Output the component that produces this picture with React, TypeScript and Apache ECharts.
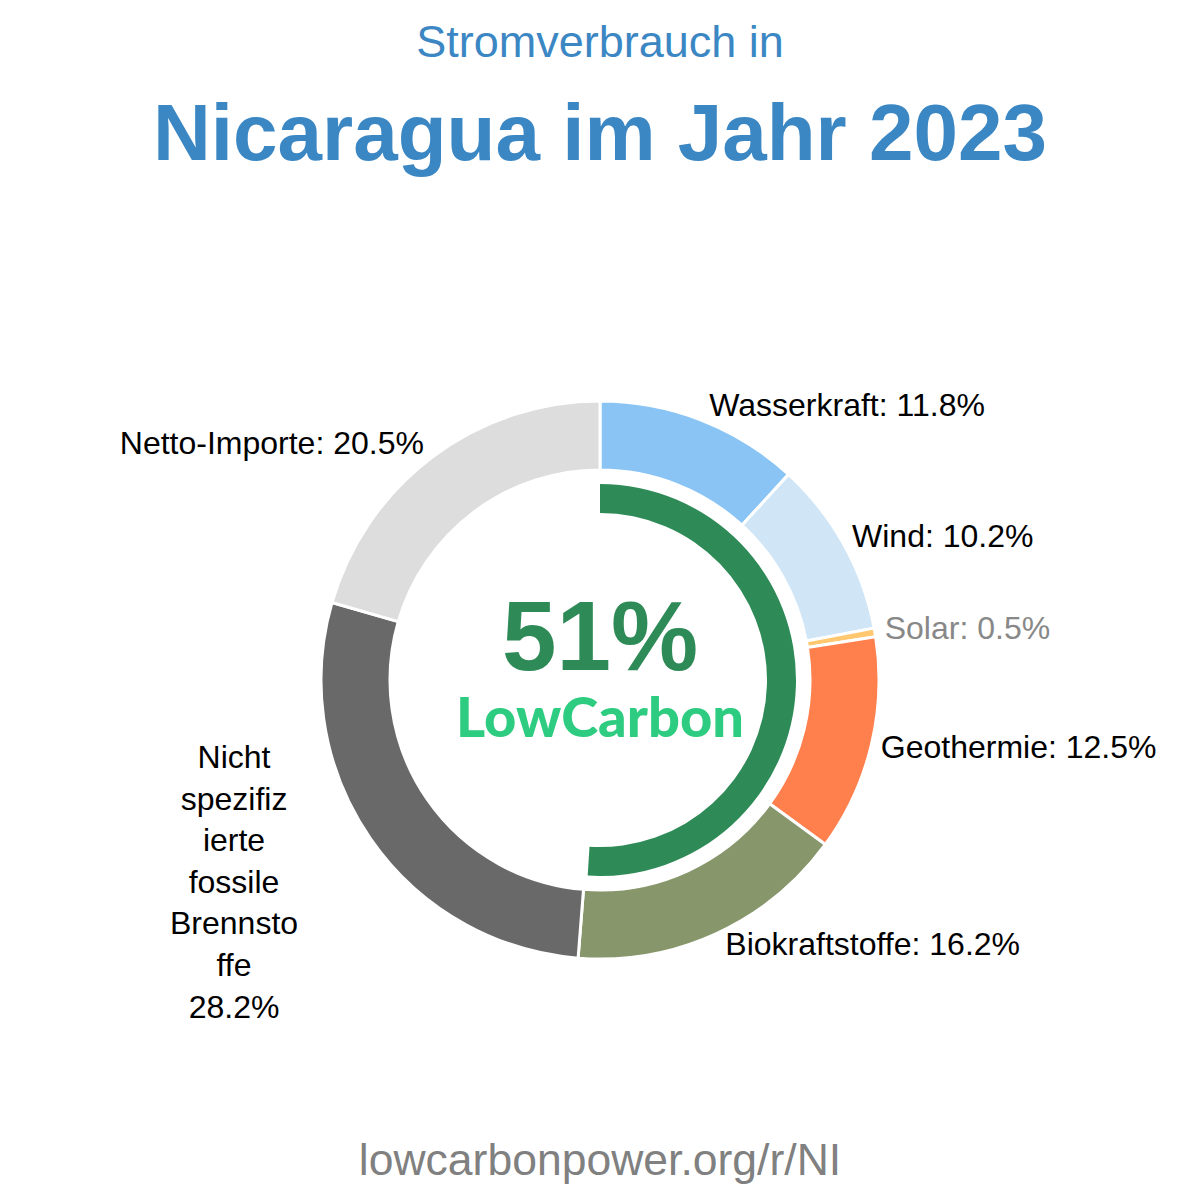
import React, { useEffect, useRef } from "react";
import * as echarts from "echarts";

const categories = [
  "Wasserkraft",
  "Wind",
  "Solar",
  "Geothermie",
  "Biokraftstoffe",
  "Nicht spezifizierte fossile Brennstoffe",
  "Netto-Importe",
];
const shares = [11.8, 10.2, 0.5, 12.5, 16.2, 28.2, 20.5];
const colors = ["#89c4f4", "#d0e6f7", "#ffc870", "#ff7f4d", "#87966b", "#696969", "#dddddd"];
const labelColors = ["#000", "#000", "#888", "#000", "#000", "#000", "#000"];
const lowCarbonShare = 51;

const titleText = "Stromverbrauch in";
const mainTitle = "Nicaragua im Jahr 2023";
const footerText = "lowcarbonpower.org/r/NI";

const CENTER: [number, number] = [600, 680];

function chunkName(name: string): string {
  const out: string[] = [];
  name.split(" ").forEach((w) => {
    for (let i = 0; i < w.length; i += 8) out.push(w.slice(i, i + 8));
  });
  return out.join("\n");
}

export default function App() {
  const ref = useRef<HTMLDivElement>(null);
  useEffect(() => {
    if (!ref.current) return;
    const chart = echarts.init(ref.current, null, { renderer: "svg" });
    const longIdx = categories.findIndex((c) => c.length > 20);
    const font = "Liberation Sans, Arial, sans-serif";
    chart.setOption({
      animation: false,
      backgroundColor: "#fff",
      title: [
        { text: titleText, left: "center", top: 19, padding: 0, textStyle: { fontSize: 45, fontWeight: "normal", color: "#3b87c4", fontFamily: font } },
        { text: mainTitle, left: "center", top: 92, padding: 0, textStyle: { fontSize: 80, fontWeight: "bold", color: "#3b87c4", fontFamily: font } },
        { text: footerText, left: "center", top: 1137, padding: 0, textStyle: { fontSize: 44.5, fontWeight: "normal", color: "#808080", fontFamily: font } },
        { text: lowCarbonShare + "%", left: "center", top: 587, padding: 0, textStyle: { fontSize: 98, fontWeight: "bold", color: "#2e8b57", fontFamily: font } },
        { text: "LowCarbon", left: "center", top: 687, padding: 0, textStyle: { fontSize: 56, fontWeight: 900, color: "#2ecc80", fontFamily: "Lato" } },
      ],
      series: [
        {
          type: "pie",
          center: CENTER,
          radius: [210, 279],
          startAngle: 90,
          clockwise: true,
          avoidLabelOverlap: false,
          itemStyle: { borderColor: "#fff", borderWidth: 3 },
          label: {
            show: true,
            position: "outside",
            fontSize: 32,
            fontFamily: font,
            distanceToLabelLine: 0,
            formatter: (p: any) =>
              p.name.length > 20 ? `${chunkName(p.name)}\n${p.value}%` : `${p.name}: ${p.value}%`,
          },
          labelLine: { show: false, length: 14, length2: 0 },
          labelLayout: (p: any) => {
            if (p.dataIndex === longIdx) {
              return {
                x: p.labelRect.x + p.labelRect.width / 2 - 61,
                y: p.labelRect.y + p.labelRect.height / 2 + 35,
                align: "center",
                verticalAlign: "middle",
              };
            }
            const cy = p.labelRect.y + p.labelRect.height / 2;
            const nearSide = Math.abs(cy - CENTER[1]) < 180;
            if (p.align === "left") return { dx: nearSide ? -4 : 3, dy: -2 };
            return { dy: -3 };
          },
          emphasis: { disabled: true },
          data: categories.map((c, i) => ({
            name: c,
            value: shares[i],
            itemStyle: { color: colors[i] },
            label:
              i === longIdx
                ? { color: labelColors[i], lineHeight: 41.6, align: "center" }
                : { color: labelColors[i] },
          })),
        },
        {
          type: "pie",
          center: CENTER,
          radius: [167, 196],
          startAngle: 90,
          clockwise: true,
          silent: true,
          label: { show: false },
          labelLine: { show: false },
          emphasis: { disabled: true },
          data: [
            { name: "low", value: lowCarbonShare, itemStyle: { color: "#2e8b57" } },
            { name: "rest", value: 100 - lowCarbonShare, itemStyle: { color: "transparent" } },
          ],
        },
      ],
    });
    return () => chart.dispose();
  }, []);
  return <div ref={ref} style={{ width: 1200, height: 1200, position: "absolute", left: 0, top: 0 }} />;
}
